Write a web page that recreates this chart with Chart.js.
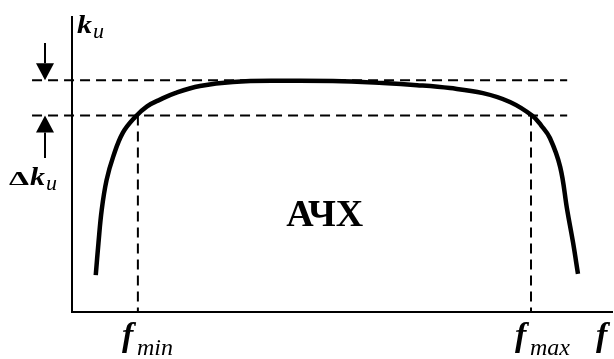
<!DOCTYPE html>
<html>
<head>
<meta charset="utf-8">
<script src="https://cdn.jsdelivr.net/npm/chart.js@4"></script>
<style>
  html, body { margin: 0; padding: 0; background: #fff; }
  #wrap { width: 614px; height: 359px; }
</style>
</head>
<body>
<div id="wrap"><canvas id="myChart"></canvas></div>
<script>
// frequency response curve (relative units)
const freq = [4.4, 4.9, 5.5, 6.4, 7.6, 9.4, 11.7, 13.9, 16.3, 19.1, 23.7, 29.8, 39.1, 48.3, 57.6, 63.9, 70.0, 76.1, 81.1, 85.2, 86.9, 88.5, 90.4, 91.7, 92.8, 93.7];
const gain = [0.125, 0.234, 0.346, 0.447, 0.525, 0.607, 0.661, 0.697, 0.720, 0.742, 0.766, 0.780, 0.784, 0.783, 0.776, 0.769, 0.759, 0.742, 0.712, 0.666, 0.632, 0.590, 0.492, 0.346, 0.234, 0.129];

const kTop = 0.786;      // upper level
const kLow = 0.666;      // level minus delta k
const fMin = 12.2;
const fMax = 85.0;
const guideFrom = -7.4;  // dashed lines start left of the axis
const guideTo = 91.7;
const arrowF = -5.0;
const arrowTopStart = 0.912;
const arrowLowStart = 0.522;

const serif = '"Liberation Serif", "DejaVu Serif", serif';

const curve = freq.map((f, i) => ({ x: f, y: gain[i] }));

function dashed(points) {
  return {
    data: points,
    borderColor: '#000',
    borderWidth: 2,
    borderDash: [10, 6],
    pointRadius: 0,
    clip: false,
    tension: 0
  };
}

const labelsPlugin = {
  id: 'labels',
  afterDraw(chart) {
    const { ctx, scales: { x, y } } = chart;
    ctx.save();
    ctx.fillStyle = '#000';
    ctx.strokeStyle = '#000';
    ctx.textBaseline = 'alphabetic';
    ctx.textAlign = 'left';

    const ax = x.getPixelForValue(0);
    const ay = y.getPixelForValue(0);

    function stretched(txt, font, px, py, sx, sy) {
      ctx.save();
      ctx.translate(px, py);
      ctx.scale(sx, sy);
      ctx.font = font;
      ctx.fillText(txt, 0, 0);
      ctx.restore();
    }

    // k_u on the vertical axis
    stretched('k', 'bold italic 25px ' + serif, ax + 5, 33, 1.2, 1);
    ctx.font = 'italic 22px ' + serif;
    ctx.fillText('u', ax + 21, 38);

    // delta k_u
    stretched('\u0394', 'bold 22px ' + serif, 9, 185, 1.45, 0.9);
    stretched('k', 'bold italic 25px ' + serif, 30, 185, 1.2, 1);
    ctx.font = 'italic 22px ' + serif;
    ctx.fillText('u', 46, 190);

    // f labels
    function fLabel(px, sub) {
      ctx.font = 'bold italic 34px ' + serif;
      ctx.fillText('f', px - 16, ay + 34);
      if (sub) {
        ctx.font = 'italic 24px ' + serif;
        ctx.fillText(sub, px - 1, ay + 43);
      }
    }
    fLabel(x.getPixelForValue(fMin), 'min');
    fLabel(x.getPixelForValue(fMax), 'max');
    ctx.font = 'bold italic 34px ' + serif;
    ctx.fillText('f', chart.chartArea.right - 16, ay + 34);

    // АЧХ
    ctx.font = 'bold 38px ' + serif;
    ctx.textAlign = 'center';
    ctx.fillText('АЧХ', x.getPixelForValue(46.8), y.getPixelForValue(0.29));

    // delta arrows
    const axp = x.getPixelForValue(arrowF);
    function arrow(from, to) {
      const y0 = y.getPixelForValue(from);
      const y1 = y.getPixelForValue(to);
      const dir = Math.sign(y1 - y0);
      const head = 17;
      ctx.lineWidth = 2;
      ctx.beginPath();
      ctx.moveTo(axp, y0);
      ctx.lineTo(axp, y1 - dir * head);
      ctx.stroke();
      ctx.beginPath();
      ctx.moveTo(axp, y1);
      ctx.lineTo(axp - 9, y1 - dir * head);
      ctx.lineTo(axp + 9, y1 - dir * head);
      ctx.closePath();
      ctx.fill();
    }
    arrow(arrowTopStart, kTop);
    arrow(arrowLowStart, kLow);

    ctx.restore();
  }
};

new Chart(document.getElementById('myChart'), {
  type: 'line',
  data: {
    datasets: [
      {
        data: curve,
        borderColor: '#000',
        borderWidth: 4.5,
        pointRadius: 0,
        tension: 0.4,
        borderCapStyle: 'butt'
      },
      dashed([{ x: guideFrom, y: kTop }, { x: guideTo, y: kTop }]),
      dashed([{ x: guideFrom, y: kLow }, { x: guideTo, y: kLow }]),
      dashed([{ x: fMin, y: kLow }, { x: fMin, y: 0 }]),
      dashed([{ x: fMax, y: kLow }, { x: fMax, y: 0 }])
    ]
  },
  options: {
    responsive: true,
    maintainAspectRatio: false,
    animation: false,
    events: [],
    layout: { padding: { left: 72, right: 2, top: 17, bottom: 47 } },
    plugins: { legend: { display: false }, tooltip: { enabled: false } },
    scales: {
      x: {
        type: 'linear',
        min: 0,
        max: 100,
        grid: { display: false, drawTicks: false },
        ticks: { display: false },
        border: { display: true, color: '#000', width: 2 }
      },
      y: {
        type: 'linear',
        min: 0,
        max: 1,
        grid: { display: false, drawTicks: false },
        ticks: { display: false },
        border: { display: true, color: '#000', width: 2 }
      }
    }
  },
  plugins: [labelsPlugin]
});
</script>
</body>
</html>
